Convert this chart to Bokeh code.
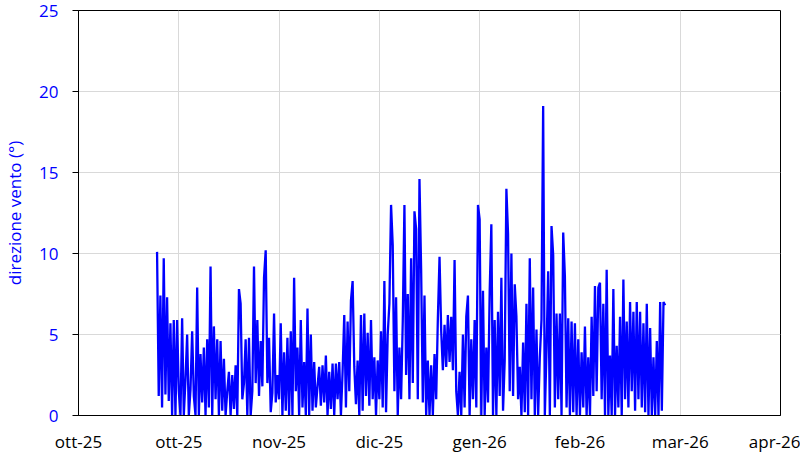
import datetime as dt
from bokeh.plotting import figure
from bokeh.models import FixedTicker, ColumnDataSource
from bokeh.embed import file_html
from bokeh.resources import INLINE

# ---- data ----
tick_dates = ["2025-10-01", "2025-10-31", "2025-11-30", "2025-12-30",
              "2026-01-29", "2026-02-28", "2026-03-30", "2026-04-29"]
tick_labels = ["ott-25", "ott-25", "nov-25", "dic-25",
               "gen-26", "feb-26", "mar-26", "apr-26"]
y_ticks = [0, 5, 10, 15, 20, 25]
series_start = "2025-10-24 12:00"
step_hours = 12
wind = [
    10.1, 1.2, 7.4, 0.5, 9.7, 1.3, 7.3, 0.9, 5.7, 0.0,
    5.9, 0.0, 5.9, 1.5, 0.0, 6.0, 0.0, 2.2, 5.0, 0.0,
    1.6, 5.2, 1.2, 0.0, 7.9, 0.0, 3.8, 0.8, 4.2, 0.0,
    4.7, 0.5, 9.2, 0.0, 5.5, 1.0, 4.7, 0.0, 4.6, 0.3,
    3.5, 0.0, 1.5, 2.7, 0.0, 2.5, 0.4, 3.1, 0.0, 7.8,
    6.9, 1.0, 2.0, 4.7, 0.0, 4.8, 0.0, 1.5, 9.2, 2.0,
    5.9, 1.2, 4.6, 1.8, 8.5, 10.2, 2.0, 4.8, 0.2, 1.4,
    6.3, 0.8, 2.5, 1.0, 5.7, 0.0, 3.9, 0.3, 4.8, 0.0,
    5.2, 0.0, 8.5, 1.5, 4.2, 0.0, 5.9, 0.5, 3.3, 0.0,
    6.6, 0.0, 5.0, 0.3, 3.3, 0.5, 1.8, 3.0, 0.6, 3.1,
    0.8, 3.7, 0.0, 2.7, 0.4, 3.2, 0.0, 3.2, 1.0, 3.3,
    0.0, 2.7, 6.2, 0.5, 5.8, 1.5, 7.1, 8.3, 3.0, 0.7,
    3.4, 0.0, 6.2, 0.3, 6.3, 1.2, 5.1, 0.6, 5.9, 1.0,
    3.6, 0.0, 3.4, 1.0, 5.2, 0.5, 8.3, 0.2, 5.0, 6.9,
    13.0, 10.5, 1.5, 7.3, 0.0, 4.2, 1.0, 5.8, 13.0, 2.5,
    7.5, 1.0, 9.7, 2.0, 12.6, 11.5, 1.0, 14.6, 9.0, 0.8,
    7.4, 0.0, 3.4, 0.0, 3.1, 0.0, 3.8, 1.0, 6.0, 9.8,
    5.2, 2.8, 5.6, 3.0, 6.2, 3.3, 6.1, 2.8, 9.6, 1.5,
    0.0, 2.7, 0.0, 5.0, 0.5, 6.1, 7.4, 0.0, 4.7, 1.0,
    5.9, 0.5, 13.0, 12.1, 0.0, 7.7, 0.0, 4.2, 0.8, 7.6,
    11.8, 0.0, 5.9, 0.0, 6.4, 1.2, 8.5, 0.3, 3.4, 14.0,
    11.2, 1.5, 10.0, 1.2, 8.1, 6.1, 1.0, 3.0, 0.0, 4.5,
    0.2, 6.9, 0.0, 9.7, 1.0, 7.9, 0.0, 5.3, 0.0, 3.6,
    5.9, 19.1, 0.0, 4.0, 8.9, 0.0, 11.7, 9.9, 0.5, 6.3,
    1.0, 6.3, 0.0, 11.3, 8.6, 0.5, 6.0, 0.0, 5.8, 0.2,
    5.7, 0.0, 4.7, 0.0, 3.9, 0.5, 5.5, 0.0, 3.6, 0.0,
    6.1, 1.2, 8.0, 1.5, 7.9, 8.2, 1.0, 6.9, 0.0, 9.0,
    0.0, 3.7, 0.0, 7.8, 0.0, 4.3, 0.5, 6.1, 0.0, 8.4,
    1.0, 5.8, 0.5, 7.0, 1.5, 6.4, 0.3, 7.0, 1.0, 6.4,
    0.5, 5.7, 0.2, 6.9, 0.0, 5.4, 0.0, 3.6, 0.0, 4.6,
    0.0, 7.0, 0.3, 7.0, 6.8,
]


def ms(s):
    return dt.datetime.fromisoformat(s).replace(tzinfo=dt.timezone.utc).timestamp() * 1000.0


t0 = dt.datetime.fromisoformat(series_start)
times = [t0 + dt.timedelta(hours=step_hours * i) for i in range(len(wind))]
src = ColumnDataSource(data=dict(t=times, v=wind))

tick_ms = [ms(d) for d in tick_dates]

FONT = "Open Sans"
BLUE = "#0000FF"

p = figure(width=800, height=455, x_axis_type="datetime",
           x_range=(tick_ms[0], tick_ms[-1]), y_range=(0, 25),
           output_backend="svg", toolbar_location=None,
           min_border_left=76, min_border_right=20,
           min_border_top=10, min_border_bottom=40)

p.line("t", "v", source=src, line_color=BLUE, line_width=2.3)

xt = FixedTicker(ticks=tick_ms)
p.xaxis.ticker = xt
p.xgrid.ticker = xt
p.xaxis.major_label_overrides = {k: l for k, l in zip(tick_ms, tick_labels)}
p.xaxis.major_tick_out = 0
p.xaxis.major_tick_in = 0
p.xaxis.minor_tick_out = 0
p.xaxis.minor_tick_in = 0
p.xaxis.major_label_standoff = 14
p.xaxis.major_label_text_font = FONT
p.xaxis.major_label_text_font_size = "17px"
p.xaxis.major_label_text_color = "black"
p.xaxis.axis_line_color = "black"

yt = FixedTicker(ticks=y_ticks)
p.yaxis.ticker = yt
p.ygrid.ticker = yt
p.yaxis.major_tick_out = 6
p.yaxis.major_tick_in = 0
p.yaxis.minor_tick_out = 0
p.yaxis.minor_tick_in = 0
p.yaxis.major_tick_line_color = "black"
p.yaxis.major_label_standoff = 14
p.yaxis.major_label_text_font = FONT
p.yaxis.major_label_text_font_size = "17px"
p.yaxis.major_label_text_color = BLUE
p.yaxis.axis_line_color = "black"
p.yaxis.axis_label = "direzione vento (°)"
p.yaxis.axis_label_text_font = FONT
p.yaxis.axis_label_text_font_size = "17px"
p.yaxis.axis_label_text_font_style = "normal"
p.yaxis.axis_label_text_color = BLUE
p.yaxis.axis_label_standoff = 10

p.grid.grid_line_color = "#D9D9D9"
p.grid.grid_line_width = 1
p.outline_line_color = "black"
p.outline_line_width = 1
p.outline_line_alpha = 1
p.background_fill_color = "white"
p.border_fill_color = "white"

open("out.html", "w").write(file_html(p, INLINE))
